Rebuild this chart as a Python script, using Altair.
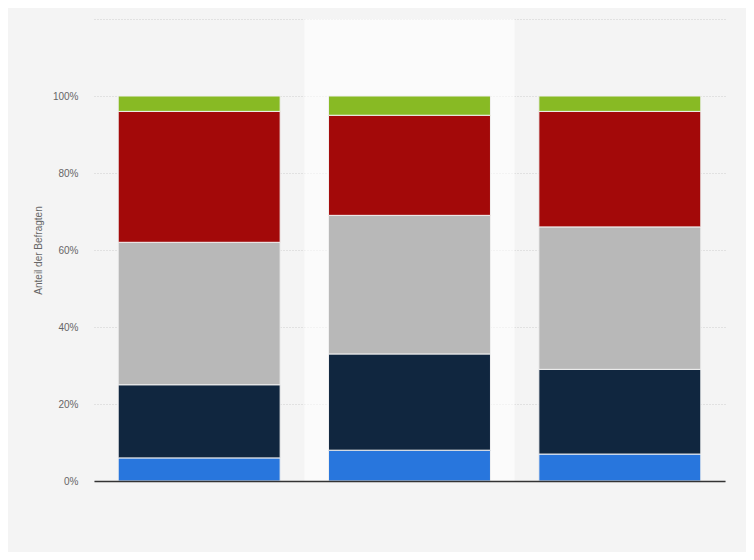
import altair as alt
import pandas as pd

groups = ["Gruppe 1", "Gruppe 2", "Gruppe 3"]
series = ["Antwort 1", "Antwort 2", "Antwort 3", "Antwort 4", "Antwort 5"]
colors = ["#2876dd", "#10263f", "#b8b8b8", "#a30909", "#88ba24"]
values = {
    "Gruppe 1": [6, 19, 37, 34, 4],
    "Gruppe 2": [8, 25, 36, 26, 5],
    "Gruppe 3": [7, 22, 37, 30, 4],
}
y_ticks = [0, 20, 40, 60, 80, 100, 120]
highlight = ["Gruppe 2"]

rows = []
for g in groups:
    for i, (s, v) in enumerate(zip(series, values[g])):
        rows.append({"gruppe": g, "serie": s, "wert": v, "ord": i})
df = pd.DataFrame(rows)
hl = pd.DataFrame({"gruppe": highlight, "lo": [0], "hi": [120]})

FONT = "Arial, Liberation Sans, sans-serif"
xscale = alt.Scale(domain=groups, paddingInner=0.23, paddingOuter=0.115)
x = alt.X("gruppe:N", scale=xscale, sort=groups,
          axis=alt.Axis(labels=False, ticks=False, title=None, domain=True,
                        domainColor="#333333", domainWidth=1.5, grid=False,
                        zindex=1))

band = alt.Chart(hl).mark_bar(width=alt.RelativeBandSize(1.2987), color="#ffffff",
                              opacity=0.6).encode(
    x=x,
    y=alt.Y("lo:Q", scale=alt.Scale(domain=[0, 120], nice=False)),
    y2="hi:Q",
)

bars = alt.Chart(df).mark_bar(stroke="#f0f0f0", strokeWidth=1).encode(
    x=x,
    y=alt.Y("sum(wert):Q", stack="zero",
            scale=alt.Scale(domain=[0, 120], nice=False),
            axis=alt.Axis(values=y_ticks, title="Anteil der Befragten",
                          labelExpr="datum.value >= 120 ? '' : datum.value + '%'",
                          grid=True, gridDash=[1, 2], gridColor="#cfcfcf",
                          domain=False, ticks=False, labelPadding=16,
                          labelColor="#666666", labelFontSize=10,
                          labelFont=FONT, titleFont=FONT,
                          titleColor="#666666", titleFontSize=10,
                          titleFontWeight="normal", titlePadding=9)),
    color=alt.Color("serie:N", scale=alt.Scale(domain=series, range=colors), legend=None),
    order=alt.Order("ord:Q", sort="ascending"),
)

chart = alt.layer(band, bars).properties(
    width=631, height=462,
    autosize=alt.AutoSizeParams(type="none"),
    padding={"left": 86, "top": 11, "right": 21, "bottom": 71},
).configure(background="#f4f4f4").configure_view(stroke=None)

chart.save("out.html", embed_options={"renderer": "svg", "actions": False})
